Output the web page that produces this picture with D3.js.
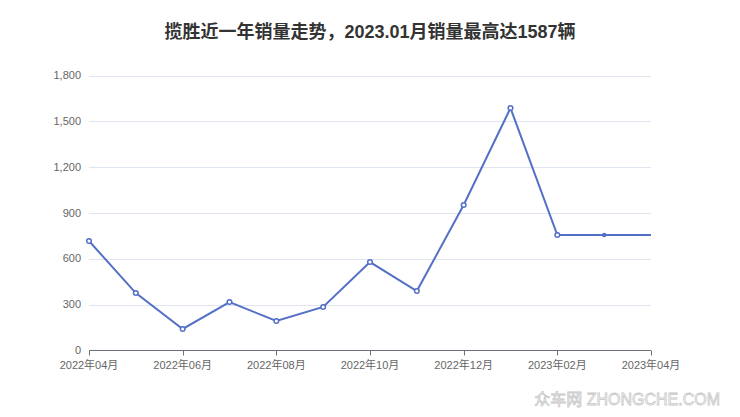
<!DOCTYPE html>
<html><head><meta charset="utf-8">
<script src="https://cdn.jsdelivr.net/npm/d3@7"></script>
<style>body{margin:0;background:#fff;}svg{display:block;font-family:"Liberation Sans","Noto Sans CJK SC",sans-serif;}</style>
</head><body><svg id="c" width="740" height="417"></svg>
<script>
const months = ["2022-04","2022-05","2022-06","2022-07","2022-08","2022-09","2022-10","2022-11","2022-12","2023-01","2023-02","2023-03","2023-04"];
const sales = [717,376,141,317,193,285,579,389,952,1587,756,756,756];
const yTicks = [0,300,600,900,1200,1500,1800];
const xTickMonths = ["2022-04","2022-06","2022-08","2022-10","2022-12","2023-02","2023-04"];
const title = "揽胜近一年销量走势，2023.01月销量最高达1587辆";

const svg = d3.select("#c");
const xi = d3.scalePoint().domain(months).range([89,651]);
const y = d3.scaleLinear().domain([0,1800]).range([350.5,75.5]);

svg.append("text").attr("x",370).attr("y",38).attr("text-anchor","middle")
  .attr("font-size",18).attr("font-weight","bold").attr("fill","#333").text(title);

svg.append("g").selectAll("line").data(yTicks.slice(1)).join("line")
  .attr("x1",89).attr("x2",651).attr("y1",d=>Math.round(y(d))+0.5).attr("y2",d=>Math.round(y(d))+0.5)
  .attr("stroke","#e0e6f1").attr("stroke-width",1);

svg.append("g").selectAll("text").data(yTicks).join("text")
  .attr("x",81).attr("y",d=>y(d)+3.5).attr("text-anchor","end")
  .attr("font-size",11).attr("fill","#666").text(d=>d3.format(",")(d));

svg.append("line").attr("x1",89).attr("x2",651).attr("y1",350.5).attr("y2",350.5).attr("stroke","#6e7079");
const fmt = d=>{const p=d.split("-");return p[0]+"年"+p[1]+"月";};
const xg = svg.append("g");
xg.selectAll("line").data(xTickMonths).join("line")
  .attr("x1",d=>Math.round(xi(d))+0.5).attr("x2",d=>Math.round(xi(d))+0.5).attr("y1",350.5).attr("y2",355.5).attr("stroke","#6e7079");
xg.selectAll("text").data(xTickMonths).join("text")
  .attr("x",d=>xi(d)).attr("y",368.5).attr("text-anchor","middle")
  .attr("font-size",11).attr("fill","#666").text(fmt);

const line = d3.line().x((d,i)=>xi(months[i])).y(d=>y(d));
svg.append("path").datum(sales).attr("d",line).attr("fill","none").attr("stroke","#5470c6").attr("stroke-width",2);
svg.append("g").selectAll("circle").data(sales.slice(0,sales.length-1)).join("circle")
  .attr("cx",(d,i)=>xi(months[i])).attr("cy",d=>y(d))
  .attr("r",(d,i)=>i===11?1.5:2.3)
  .attr("fill",(d,i)=>i===11?"#5470c6":"#fff").attr("stroke","#5470c6").attr("stroke-width",1.5);

svg.append("text").attr("x",720).attr("y",405).attr("text-anchor","end")
  .attr("font-size",16).attr("fill","#fff").attr("stroke","#c8c8c8").attr("stroke-width",0.8)
  .text("众车网 ZHONGCHE.COM");
</script></body></html>
